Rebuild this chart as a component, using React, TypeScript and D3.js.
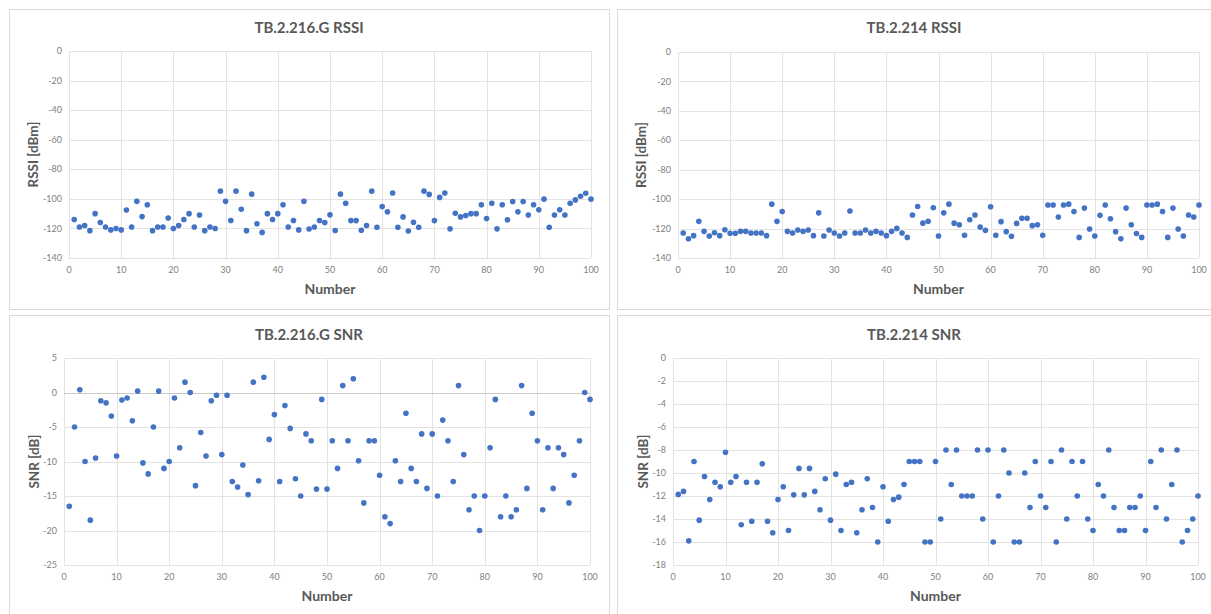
import React from "react";
import * as d3 from "d3";

const xTicks = [0, 10, 20, 30, 40, 50, 60, 70, 80, 90, 100];
const rssiTicks = [0, -20, -40, -60, -80, -100, -120, -140];
const snrGTicks = [5, 0, -5, -10, -15, -20, -25];
const snr214Ticks = [0, -2, -4, -6, -8, -10, -12, -14, -16, -18];

const rssiG = [
  -114, -119, -118, -121.5, -110, -116, -119, -121, -120, -121,
  -107.6, -119, -101.7, -112, -104, -121.5, -119, -119, -113, -120,
  -118, -114, -110, -119, -111, -121.5, -119, -120, -94.8, -101.7,
  -114.6, -94.8, -107, -121.5, -96.8, -116.8, -122.7, -110, -114, -110,
  -104, -119, -114.6, -121, -101.7, -120.4, -119, -114.6, -116, -110.8,
  -121.4, -96.8, -103, -114.7, -114.7, -121.2, -118, -94.8, -119.2, -105.2,
  -108.8, -96, -119.2, -112.2, -121.7, -115.8, -119.2, -94.8, -97, -114.7,
  -99, -96, -120.3, -109.7, -112.2, -111.3, -110, -110, -104, -113.3,
  -103, -120.3, -104, -114.2, -101.8, -108.8, -101.8, -111, -104, -107.4,
  -100.2, -119.2, -111, -107.4, -111, -103, -100.7, -98.2, -96.2, -100.2,
];

const rssi214 = [
  -123, -126.9, -124.8, -115.1, -121.9, -125, -122.8, -124.8, -120.8, -123.2,
  -123.2, -121.9, -121.9, -123, -123, -123, -124.8, -103.4, -115.1, -108.4,
  -121.9, -123, -121, -121.9, -121, -124.8, -109.3, -125, -121, -123,
  -125, -123, -108.1, -123, -123, -121, -123, -121.9, -123, -124.8,
  -121.9, -119.9, -123, -126, -110.8, -105, -116.3, -115.1, -105.9, -125,
  -109.3, -103.4, -116.3, -117.4, -124.6, -114, -110.8, -119, -121.2, -105.2,
  -124.6, -115.3, -122.1, -125.3, -116.5, -113, -113, -118, -117.4, -124.6,
  -104, -104, -112.2, -104, -103.4, -108.4, -126, -106.1, -120.3, -125,
  -111, -104, -113.3, -122.1, -127, -106.1, -117.4, -123.3, -126, -104,
  -104, -103.4, -108.4, -126, -106.1, -120.3, -125, -110.8, -112.2, -104,
];

const snrG = [
  -16.5, -5, 0.4, -10, -18.5, -9.5, -1.2, -1.5, -3.4, -9.2,
  -1.1, -0.8, -4.1, 0.2, -10.2, -11.8, -5, 0.2, -11, -10,
  -0.8, -8, 1.5, 0, -13.5, -5.8, -9.2, -1.2, -0.4, -9,
  -0.4, -12.9, -13.7, -10.5, -14.8, 1.5, -12.8, 2.2, -6.8, -3.2,
  -12.9, -1.9, -5.2, -12.5, -15, -6, -7, -14, -1, -14,
  -7, -11, 1, -7, 2, -9.9, -16, -7, -7, -12,
  -18, -19, -9.9, -12.9, -3, -11, -12.9, -6, -13.9, -6,
  -15, -4, -7, -12.9, 1, -9, -17, -15, -20, -15,
  -8, -1, -18, -15, -18, -17, 1, -13.9, -3, -7,
  -17, -8, -13.9, -8, -9, -16, -12, -7, 0, -1,
];

const snr214 = [
  -11.86, -11.6, -15.9, -9, -14.1, -10.3, -12.3, -10.8, -11.2, -8.2,
  -10.8, -10.3, -14.5, -10.8, -14.2, -10.8, -9.2, -14.2, -15.2, -12.3,
  -11.2, -15, -11.9, -9.6, -11.9, -9.6, -11.6, -13.2, -10.5, -14.1,
  -10.1, -15, -11, -10.8, -15.2, -13.2, -10.5, -13, -16, -11.2,
  -14.2, -12.3, -12.1, -11, -9, -9, -9, -16, -16, -9,
  -14, -8, -11, -8, -12, -12, -12, -8, -14, -8,
  -16, -12, -8, -10, -16, -16, -10, -13, -9, -12,
  -13, -9, -16, -8, -14, -9, -12, -9, -14, -15,
  -11, -12, -8, -13, -15, -15, -13, -13, -12, -15,
  -9, -13, -8, -14, -11, -8, -16, -15, -14, -12,
];

const FONT = "Lato, 'Open Sans', sans-serif";

type PanelProps = {
  title: string;
  yLabel: string;
  values: number[];
  yTicks: number[];
  box: [number, number, number, number];
  plot: { l: number; r: number; t: number; b: number };
  titleY: number;
  xTitleY: number;
  yTitleX: number;
  zeroLine?: boolean;
};

function Panel(p: PanelProps) {
  const { plot } = p;
  const x = d3.scaleLinear().domain([0, 100]).range([plot.l, plot.r]);
  const yMax = d3.max(p.yTicks) as number;
  const yMin = d3.min(p.yTicks) as number;
  const y = d3.scaleLinear().domain([yMin, yMax]).range([plot.b, plot.t]);
  const cx = (plot.l + plot.r) / 2;
  const panelCx = (p.box[0] + p.box[2]) / 2;
  return (
    <g>
      <rect
        x={p.box[0] + 0.5}
        y={p.box[1] + 0.5}
        width={p.box[2] - p.box[0]}
        height={p.box[3] - p.box[1]}
        fill="#ffffff"
        stroke="#d9d9d9"
        strokeWidth={1}
      />
      <text
        x={panelCx}
        y={p.titleY}
        textAnchor="middle"
        fontFamily={FONT}
        fontWeight={700}
        fontSize={15}
        fill="#595959"
      >
        {p.title}
      </text>
      {xTicks.map((t) => (
        <line
          key={"vx" + t}
          x1={Math.round(x(t)) + 0.5}
          x2={Math.round(x(t)) + 0.5}
          y1={plot.t}
          y2={plot.b}
          stroke="#e3e3e3"
          strokeWidth={1}
        />
      ))}
      {p.yTicks.map((t) => (
        <line
          key={"hy" + t}
          x1={plot.l}
          x2={plot.r}
          y1={Math.round(y(t)) + 0.5}
          y2={Math.round(y(t)) + 0.5}
          stroke={p.zeroLine && t === 0 ? "#c8c8c8" : "#e3e3e3"}
          strokeWidth={1}
        />
      ))}
      {p.yTicks.map((t) => (
        <text
          key={"ty" + t}
          x={plot.l - 7}
          y={y(t)}
          dy="0.35em"
          textAnchor="end"
          fontFamily={FONT}
          fontSize={9}
          fill="#808080"
        >
          {t}
        </text>
      ))}
      {xTicks.map((t) => (
        <text
          key={"tx" + t}
          x={x(t)}
          y={plot.b + 12}
          dy="0.35em"
          textAnchor="middle"
          fontFamily={FONT}
          fontSize={9}
          fill="#808080"
        >
          {t}
        </text>
      ))}
      {p.values.map((v, i) => (
        <circle key={"p" + i} cx={x(i + 1)} cy={y(v)} r={2.8} fill="#4472c4" />
      ))}
      <text
        x={cx}
        y={p.xTitleY}
        textAnchor="middle"
        fontFamily={FONT}
        fontWeight={700}
        fontSize={14}
        fill="#595959"
      >
        Number
      </text>
      <text
        transform={`translate(${p.yTitleX},${(plot.t + plot.b) / 2}) rotate(-90)`}
        textAnchor="middle"
        dy="0.35em"
        fontFamily={FONT}
        fontWeight={700}
        fontSize={13.5}
        fill="#595959"
      >
        {p.yLabel}
      </text>
    </g>
  );
}

export default function App() {
  return (
    <svg
      width={1211}
      height={614}
      style={{ position: "absolute", left: 0, top: 0, background: "#ffffff" }}
    >
      <rect x={0} y={0} width={1211} height={614} fill="#ffffff" />
      <Panel
        title="TB.2.216.G RSSI"
        yLabel="RSSI [dBm]"
        values={rssiG}
        yTicks={rssiTicks}
        box={[9, 9, 609, 309]}
        plot={{ l: 69, r: 591, t: 51, b: 258 }}
        titleY={33}
        xTitleY={294}
        yTitleX={33}
      />
      <Panel
        title="TB.2.214 RSSI"
        yLabel="RSSI [dBm]"
        values={rssi214}
        yTicks={rssiTicks}
        box={[617, 9, 1211, 309]}
        plot={{ l: 678, r: 1199, t: 52, b: 258 }}
        titleY={33}
        xTitleY={294}
        yTitleX={641}
      />
      <Panel
        title="TB.2.216.G SNR"
        yLabel="SNR [dB]"
        values={snrG}
        yTicks={snrGTicks}
        box={[9, 315, 609, 614]}
        plot={{ l: 64, r: 590, t: 358, b: 565 }}
        titleY={340}
        xTitleY={601}
        yTitleX={34}
        zeroLine
      />
      <Panel
        title="TB.2.214 SNR"
        yLabel="SNR [dB]"
        values={snr214}
        yTicks={snr214Ticks}
        box={[617, 315, 1211, 614]}
        plot={{ l: 673, r: 1198, t: 358, b: 565 }}
        titleY={340}
        xTitleY={601}
        yTitleX={643}
      />
    </svg>
  );
}
